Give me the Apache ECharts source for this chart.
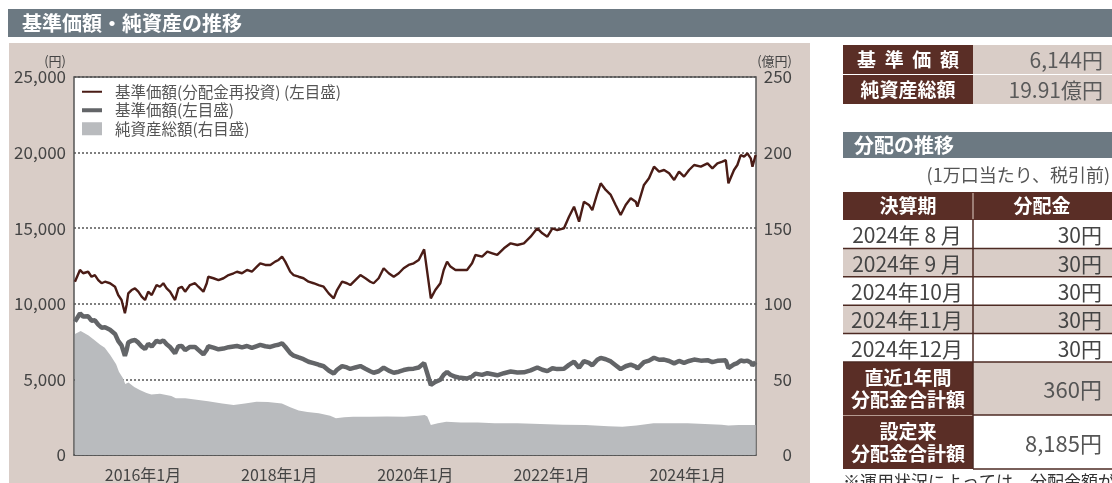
<!DOCTYPE html>
<html><head><meta charset="utf-8">
<script src="https://cdn.jsdelivr.net/npm/echarts@6/dist/echarts.min.js"></script>
<style>html,body{margin:0;padding:0;background:#fff}#c{width:1112px;height:483px}</style>
</head><body><div id="c"></div>
<script>
// ---- data ----
const lineDates = [
'2015-01-01','2015-01-28','2015-02-14','2015-03-13','2015-03-31','2015-04-18','2015-05-06','2015-05-24','2015-06-11','2015-07-08',
'2015-07-17','2015-08-04','2015-08-21','2015-09-08','2015-09-26','2015-10-05','2015-10-14','2015-11-01','2015-11-19','2015-12-07',
'2015-12-25','2016-01-12','2016-01-29','2016-02-17','2016-03-14','2016-04-01','2016-04-19','2016-05-07','2016-05-25','2016-06-21',
'2016-07-09','2016-07-27','2016-08-14','2016-09-09','2016-10-06','2016-10-24','2016-11-20','2016-12-08','2016-12-16','2017-01-13',
'2017-02-09','2017-03-08','2017-04-04','2017-05-01','2017-05-19','2017-06-15','2017-07-12','2017-08-07','2017-09-03','2017-09-21',
'2017-10-18','2017-11-14','2017-12-10','2017-12-28','2018-01-16','2018-02-02','2018-03-01','2018-03-19','2018-04-15','2018-05-11',
'2018-06-07','2018-07-04','2018-07-31','2018-08-27','2018-09-23','2018-10-20','2018-11-07','2018-12-04','2018-12-30','2019-01-17',
'2019-02-13','2019-03-12','2019-04-08','2019-05-04','2019-05-22','2019-06-18','2019-07-15','2019-08-11','2019-09-07','2019-10-04',
'2019-10-30','2019-11-26','2019-12-23','2020-01-19','2020-02-17','2020-03-24','2020-04-17','2020-05-14','2020-06-01','2020-06-19',
'2020-07-07','2020-08-03','2020-08-20','2020-10-04','2020-10-31','2020-11-18','2020-12-24','2021-01-21','2021-02-17','2021-03-15',
'2021-04-20','2021-05-26','2021-07-01','2021-08-05','2021-09-10','2021-10-16','2021-11-12','2021-12-09','2022-01-05','2022-01-31',
'2022-03-08','2022-04-04','2022-05-01','2022-05-28','2022-06-23','2022-07-20','2022-08-07','2022-09-03','2022-09-21','2022-10-18',
'2022-11-14','2022-12-10','2023-01-06','2023-02-02','2023-03-01','2023-03-28','2023-04-06','2023-05-11','2023-06-07','2023-07-04',
'2023-07-31','2023-08-27','2023-09-23','2023-10-20','2023-11-15','2023-12-12','2024-01-08','2024-02-04','2024-03-11','2024-04-16',
'2024-05-12','2024-06-08','2024-07-05','2024-07-23','2024-08-06','2024-09-05','2024-09-23','2024-10-11','2024-10-29','2024-11-16',
'2024-12-04','2024-12-13','2024-12-30'];
const reinvested = [
11460,12240,12020,12120,11790,11900,11570,11360,11460,11360,
11460,11130,10580,10250,9370,9920,10690,10910,11020,10800,
10470,10250,10800,10580,11240,11130,11360,11020,10800,10250,
11020,11130,10800,11240,11360,11130,10800,11360,11790,11690,
11570,11690,11900,12020,12120,12020,12240,12120,12460,12680,
12570,12570,12790,12900,13120,12790,12120,11900,11790,11690,
11460,11360,11240,11130,10690,10360,10910,11460,11360,11240,
11570,11900,11690,11460,11360,11690,12350,12020,11790,12020,
12350,12570,12680,12900,13600,10360,10910,11360,12240,12790,
12460,12240,12240,12240,12680,13230,13120,13450,13340,13230,
13670,14000,13890,14000,14440,14990,14660,14440,14990,14880,
14990,15760,16420,15430,16750,16540,16200,17310,17970,17530,
17200,16540,15870,16540,16980,16750,16420,17860,18300,19070,
18740,18850,18630,18190,18740,18410,18850,19180,19070,19290,
18960,19290,19400,19510,17970,18850,19180,19840,19730,19950,
19620,19070,19840];
const nav = [
8820,9360,9160,9170,8880,8910,8620,8420,8450,8280,
8320,8010,7550,7250,6560,6920,7440,7560,7600,7430,
7180,7010,7350,7170,7560,7460,7580,7320,7140,6730,
7200,7210,6940,7150,7150,6950,6660,6960,7190,7100,
6990,7040,7130,7180,7210,7120,7210,7080,7200,7280,
7190,7150,7250,7290,7390,7160,6740,6570,6450,6340,
6170,6080,5970,5870,5590,5390,5640,5880,5790,5690,
5790,5880,5700,5540,5440,5540,5780,5580,5440,5510,
5620,5690,5710,5790,6080,4630,4830,4980,5310,5500,
5310,5170,5130,5060,5190,5380,5300,5410,5340,5270,
5410,5520,5460,5470,5600,5790,5640,5550,5740,5680,
5700,5960,6170,5770,6210,6090,5930,6300,6420,6330,
6190,5940,5680,5870,5980,5850,5710,6140,6240,6430,
6300,6310,6220,6060,6220,6090,6220,6310,6240,6270,
6140,6230,6250,6260,5750,5990,6080,6250,6200,6240,
6120,5930,6144];
const assetDates = ['2015-01-01','2015-02-01','2015-03-15','2015-04-15','2015-05-15','2015-06-10','2015-07-10','2015-08-10','2015-08-25','2015-09-15',
'2015-09-28','2015-10-15','2015-11-15','2015-12-15','2016-01-20','2016-02-15','2016-04-01','2016-06-01','2016-06-25','2016-08-15',
'2016-10-15','2016-12-15','2017-03-01','2017-05-01','2017-07-01','2017-09-01','2017-11-01','2018-01-15','2018-03-01','2018-04-15',
'2018-06-01','2018-08-01','2018-10-01','2018-11-01','2018-12-15','2019-02-01','2019-05-01','2019-08-01','2019-11-01','2020-01-15',
'2020-02-20','2020-03-05','2020-03-24','2020-05-01','2020-06-15','2020-09-01','2020-12-01','2021-03-01','2021-07-01','2021-11-01',
'2022-03-01','2022-07-01','2022-11-01','2023-01-15','2023-04-01','2023-07-01','2023-10-01','2024-01-01','2024-04-01','2024-07-01',
'2024-08-06','2024-10-01','2024-12-30'];
const assets = [80,82,79,76,73,71,66,60,55,51,
47,48,45,43,41,40,40.5,39,37.5,37.5,
36.5,35.5,34,33,34,35.3,35,34,31.5,29.5,
28.5,27.6,26,24.3,25,25.3,25.3,25.5,25.3,26,
26.5,25.5,19.8,21,22,21.5,21.5,21,21,20.5,
20,19.8,19,18.7,19.5,21,21,21,20.5,20,
19.5,19.8,19.91];
const xTickYears = [2016, 2018, 2020, 2022, 2024];
const seriesNames = ['基準価額(分配金再投資) (左目盛)', '基準価額(左目盛)', '純資産総額(右目盛)'];
const summaryLabels = ['基  準  価  額', '純資産総額'];
const summaryValues = ['6,144円', '19.91億円'];
const distPeriods = ['2024年 8 月', '2024年 9 月', '2024年10月', '2024年11月', '2024年12月'];
const distAmounts = ['30円', '30円', '30円', '30円', '30円'];
const totals = [['直近1年間', '分配金合計額', '360円'], ['設定来', '分配金合計額', '8,185円']];

// ---- chart ----
const FONT = "'Noto Sans CJK JP', sans-serif";
const BROWN = '#5a2e26', BEIGE = '#d9cdc7', SLATE = '#6c7982';
const ts = s => { const p = s.split('-').map(Number); return new Date(p[0], p[1] - 1, p[2]).getTime(); };
const tickValues = xTickYears.map(y => new Date(y, 0, 1).getTime());
const pair = (ds, arr) => ds.map((d, i) => [ts(d), arr[i]]);
// legend icons: 20px-wide mark inside a 28px box (degenerate sub-paths only widen the box)
const barIcon = h => 'path://M0,0L28,0L28,0Z M0,' + (6.5 - h / 2) + 'L20,' + (6.5 - h / 2) + 'L20,' + (6.5 + h / 2) + 'L0,' + (6.5 + h / 2) + 'Z M0,13L28,13L28,13Z';
const boxIcon = 'path://M0,0L20,0L20,13L0,13Z M28,0L28,0L28,0Z M28,13L28,13L28,13Z';

const g = [];
g.push({type:'rect', z:-10, shape:{x:8,y:9,width:1104,height:28}, style:{fill:SLATE}});
g.push({type:'text', z:-9, style:{text:'基準価額・純資産の推移', x:22, y:23, fill:'#fff', font:'bold 20px ' + FONT, textVerticalAlign:'middle'}});
g.push({type:'rect', z:-10, shape:{x:9,y:43,width:801,height:440}, style:{fill:BEIGE}});
summaryLabels.forEach((t, i) => {
  const y0 = 45 + i * 30;
  g.push({type:'rect', z:-5, shape:{x:843,y:y0,width:130,height:29}, style:{fill:BROWN}});
  g.push({type:'rect', z:-5, shape:{x:973,y:y0,width:139,height:29}, style:{fill:BEIGE}});
  g.push({type:'text', z:-4, style:{text:t, x:908, y:y0 + 15, fill:'#fff', font:'bold 19px ' + FONT, textAlign:'center', textVerticalAlign:'middle'}});
  g.push({type:'text', z:-4, style:{text:summaryValues[i], x:1103, y:y0 + 15, fill:'#5a5a5a', font:'21px ' + FONT, textAlign:'right', textVerticalAlign:'middle'}});
});
g.push({type:'rect', z:-5, shape:{x:843,y:132,width:269,height:26}, style:{fill:SLATE}});
g.push({type:'text', z:-4, style:{text:'分配の推移', x:854, y:145, fill:'#fff', font:'bold 20px ' + FONT, textVerticalAlign:'middle'}});
g.push({type:'text', z:-4, style:{text:'(1万口当たり、税引前)', x:1110, y:175, fill:'#555', font:'18px ' + FONT, textAlign:'right', textVerticalAlign:'middle'}});
g.push({type:'rect', z:-5, shape:{x:843,y:192,width:269,height:28}, style:{fill:BROWN}});
g.push({type:'line', z:-4, shape:{x1:973,y1:193,x2:973,y2:219}, style:{stroke:'#b49a90', lineWidth:1.5}});
g.push({type:'text', z:-4, style:{text:'決算期', x:908, y:206, fill:'#fff', font:'bold 19px ' + FONT, textAlign:'center', textVerticalAlign:'middle'}});
g.push({type:'text', z:-4, style:{text:'分配金', x:1042, y:206, fill:'#fff', font:'bold 19px ' + FONT, textAlign:'center', textVerticalAlign:'middle'}});
const RH = 28.4;
distPeriods.forEach((p, i) => {
  const y0 = 220 + i * RH;
  g.push({type:'rect', z:-6, shape:{x:843,y:y0,width:269,height:RH}, style:{fill: i % 2 ? BEIGE : '#fff'}});
  g.push({type:'text', z:-4, style:{text:p, x:907, y:y0 + RH / 2 + 1, fill:'#444', font:'21px ' + FONT, textAlign:'center', textVerticalAlign:'middle'}});
  g.push({type:'text', z:-4, style:{text:distAmounts[i], x:1102, y:y0 + RH / 2 + 1, fill:'#444', font:'21px ' + FONT, textAlign:'right', textVerticalAlign:'middle'}});
  g.push({type:'line', z:-3, shape:{x1:843,y1:y0 + RH,x2:1112,y2:y0 + RH}, style:{stroke:'#4d2a23', lineWidth:1.5}});
});
const tTop = 220 + 5 * RH;
totals.forEach((t, i) => {
  const y0 = tTop + i * 54, h = 53;
  g.push({type:'rect', z:-6, shape:{x:843,y:y0,width:130,height:h}, style:{fill:BROWN}});
  g.push({type:'rect', z:-6, shape:{x:973,y:y0,width:139,height:h}, style:{fill: i === 0 ? BEIGE : '#fff'}});
  g.push({type:'text', z:-4, style:{text:t[0], x:908, y:y0 + 16, fill:'#fff', font:'bold 19px ' + FONT, textAlign:'center', textVerticalAlign:'middle'}});
  g.push({type:'text', z:-4, style:{text:t[1], x:908, y:y0 + 38, fill:'#fff', font:'bold 19px ' + FONT, textAlign:'center', textVerticalAlign:'middle'}});
  g.push({type:'text', z:-4, style:{text:t[2], x:1102, y:y0 + h / 2 + 1, fill:'#555', font:'22px ' + FONT, textAlign:'right', textVerticalAlign:'middle'}});
  g.push({type:'line', z:-3, shape:{x1:973,y1:y0 + h,x2:1112,y2:y0 + h}, style:{stroke:'#4d2a23', lineWidth:1.5}});
  if (i === 0) g.push({type:'line', z:-3, shape:{x1:843,y1:y0 + h + 0.5,x2:973,y2:y0 + h + 0.5}, style:{stroke:'#b49a90', lineWidth:1}});
});
g.push({type:'line', z:-3, shape:{x1:973,y1:220,x2:973,y2:tTop + 107}, style:{stroke:'#4d2a23', lineWidth:1.5}});
g.push({type:'text', z:-4, style:{text:'※運用状況によっては、分配金額が変わる場合があります。', x:843, y:473, fill:'#333', font:'17px ' + FONT, textVerticalAlign:'top'}});

const chart = echarts.init(document.getElementById('c'), null, {renderer:'canvas'});
chart.setOption({
  backgroundColor:'#fff',
  animation:false,
  textStyle:{fontFamily:FONT},
  graphic:{elements:g},
  grid:{left:74, right:356, top:77, bottom:28, show:true, backgroundColor:'#fff', borderColor:'#555', borderWidth:1.5},
  legend:{
    orient:'vertical', left:82, top:84, padding:0, itemGap:3, itemWidth:28, itemHeight:13,
    textStyle:{fontSize:15.5, color:'#555', fontFamily:FONT},
    data:[{name:seriesNames[0], icon:barIcon(2)}, {name:seriesNames[1], icon:barIcon(4)}, {name:seriesNames[2], icon:boxIcon}]
  },
  xAxis:{
    type:'value', min:new Date(2014, 11, 27).getTime(), max:new Date(2025, 0, 1).getTime(),
    axisLine:{show:true, lineStyle:{color:'#555', width:1.5}},
    axisTick:{show:true, inside:true, length:5, customValues:tickValues, lineStyle:{color:'#444', width:1.5}},
    axisLabel:{customValues:tickValues, margin:12, fontSize:16, color:'#444', fontFamily:FONT,
      formatter:v => { const d = new Date(v); return d.getFullYear() + '年' + (d.getMonth() + 1) + '月'; }},
    splitLine:{show:false}
  },
  yAxis:[{
    type:'value', min:0, max:25000, interval:5000, position:'left',
    name:'(円)', nameLocation:'end', nameGap:16,
    nameTextStyle:{fontSize:13, color:'#444', align:'right', verticalAlign:'middle', padding:[0,8,0,0]},
    axisLine:{show:false}, axisTick:{show:false},
    axisLabel:{fontSize:17, color:'#444', margin:8},
    splitLine:{show:true, lineStyle:{color:'#555', type:[2,2], width:1.5}}
  },{
    type:'value', min:0, max:250, interval:50, position:'right',
    name:'(億円)', nameLocation:'end', nameGap:16,
    nameTextStyle:{fontSize:13, color:'#444', align:'right', verticalAlign:'middle', padding:[0,-36,0,0]},
    axisLine:{show:false}, axisTick:{show:false},
    axisLabel:{fontSize:17, color:'#444', margin:36, align:'right'},
    splitLine:{show:false}
  }],
  series:[
    {name:seriesNames[2], type:'line', yAxisIndex:1, data:pair(assetDates, assets), symbol:'none', z:1,
     itemStyle:{color:'#b9bbbe'}, lineStyle:{width:0, color:'#b9bbbe'}, areaStyle:{color:'#b9bbbe', opacity:1}},
    {name:seriesNames[1], type:'line', yAxisIndex:0, data:pair(lineDates, nav), symbol:'none', z:3,
     itemStyle:{color:'#636568'}, lineStyle:{width:4.5, color:'#636568'}},
    {name:seriesNames[0], type:'line', yAxisIndex:0, data:pair(lineDates, reinvested), symbol:'none', z:4,
     itemStyle:{color:'#4a1c16'}, lineStyle:{width:2.4, color:'#4a1c16'}}
  ]
});
</script></body></html>
